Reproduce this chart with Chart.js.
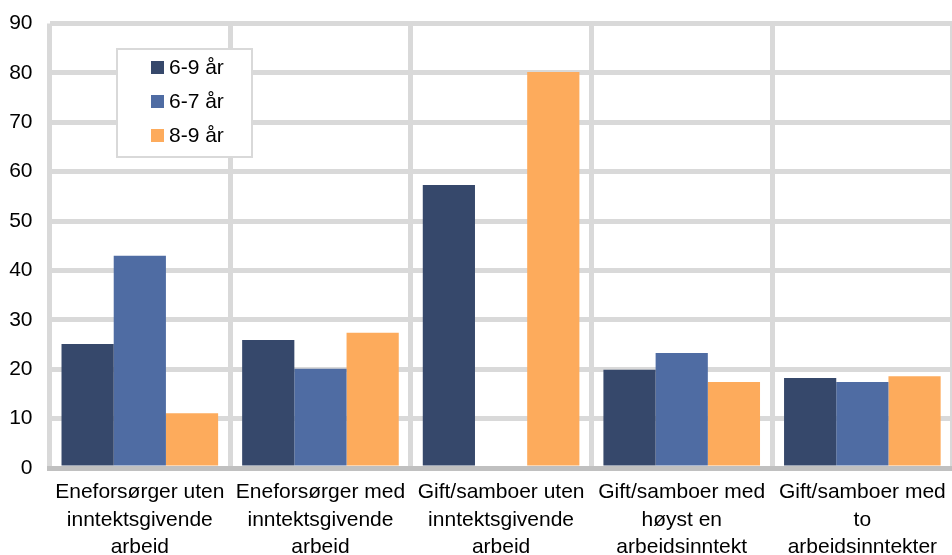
<!DOCTYPE html>
<html>
<head>
<meta charset="utf-8">
<script src="https://cdn.jsdelivr.net/npm/chart.js@4"></script>
<style>
    html, body { margin: 0; padding: 0; background: #fff; overflow: hidden; }
    #wrap { width: 957px; height: 555px; }
</style>
</head>
<body>
<div id="wrap"><canvas id="chart"></canvas></div>
<script>
const categories = [
    ["Eneforsørger uten", "inntektsgivende", "arbeid"],
    ["Eneforsørger med", "inntektsgivende", "arbeid"],
    ["Gift/samboer uten", "inntektsgivende", "arbeid"],
    ["Gift/samboer med", "høyst en", "arbeidsinntekt"],
    ["Gift/samboer med", "to", "arbeidsinntekter"]
];
const seriesNames = ["6-9 år", "6-7 år", "8-9 år"];
const age69 = [25.1, 25.9, 57.3, 19.9, 18.2];
const age67 = [43.0, 20.1, null, 23.3, 17.4];
const age89 = [11.1, 27.4, 80.2, 17.4, 18.6];
const colors = ["#36486b", "#4f6ca3", "#fdab5c"];

const fontFamily = "'Liberation Sans', Arial, sans-serif";
const fontSize = 21;

const boxLegend = {
    id: "boxLegend",
    afterDraw(chart) {
        const ctx = chart.ctx;
        ctx.save();
        ctx.fillStyle = "#fff";
        ctx.fillRect(116, 48, 137, 110);
        ctx.strokeStyle = "#d9d9d9";
        ctx.lineWidth = 2;
        ctx.strokeRect(117, 49, 135, 108);
        ctx.font = `${fontSize}px ${fontFamily}`;
        ctx.textBaseline = "middle";
        chart.data.datasets.forEach((ds, i) => {
            const y = 67 + i * 34;
            ctx.fillStyle = ds.backgroundColor;
            ctx.fillRect(151, y - 6, 13, 13);
            ctx.fillStyle = "#000";
            ctx.fillText(ds.label, 169, y + 1);
        });
        ctx.restore();
    }
};

new Chart(document.getElementById("chart"), {
    type: "bar",
    data: {
        labels: categories,
        datasets: [
            { label: seriesNames[0], data: age69, backgroundColor: colors[0] },
            { label: seriesNames[1], data: age67, backgroundColor: colors[1] },
            { label: seriesNames[2], data: age89, backgroundColor: colors[2] }
        ]
    },
    options: {
        responsive: true,
        maintainAspectRatio: false,
        animation: false,
        layout: { padding: { top: 23.5, right: 2, left: 0, bottom: 0 } },
        datasets: { bar: { categoryPercentage: 0.867, barPercentage: 1 } },
        plugins: {
            legend: { display: false },
            tooltip: { enabled: false }
        },
        scales: {
            x: {
                offset: true,
                grid: { offset: true, color: "#d9d9d9", lineWidth: 5, drawTicks: false },
                border: { color: "#c0c0c0", width: 5 },
                ticks: {
                    color: "#000",
                    font: { family: fontFamily, size: fontSize, lineHeight: 1.3 },
                    padding: 11, maxRotation: 0, autoSkip: false
                },
                afterFit(scale) { scale.height = 87; }
            },
            y: {
                min: 0,
                max: 90,
                ticks: {
                    stepSize: 10, color: "#000",
                    font: { family: fontFamily, size: fontSize, lineHeight: 0.5 },
                    padding: 17
                },
                grid: { color: "#d9d9d9", lineWidth: 5, drawTicks: false },
                border: { display: false },
                afterFit(scale) { scale.width = 49.5; }
            }
        }
    },
    plugins: [boxLegend]
});
</script>
</body>
</html>
